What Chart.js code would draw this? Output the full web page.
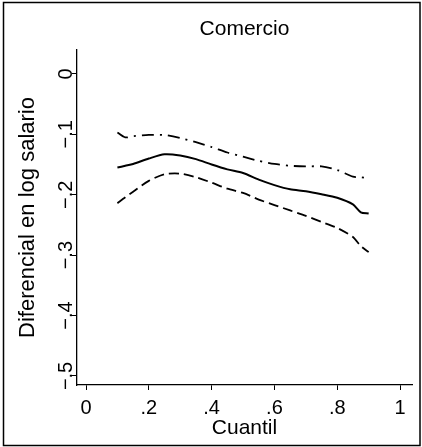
<html>
<head>
    <script src="https://cdn.jsdelivr.net/npm/chart.js@4.4.0/dist/chart.umd.min.js"></script>
    <style>
        body { margin: 0; background: #fff; }
    </style>
</head>
<body>

<canvas id="myChart" width="422" height="447"></canvas>

<script>
    // valores
    const quantiles = [0.10, 0.125, 0.15, 0.20, 0.25, 0.30, 0.35, 0.40, 0.45, 0.50, 0.55, 0.60, 0.65, 0.70, 0.75, 0.80, 0.85, 0.875, 0.90];
    const estimate = [-0.155, -0.152, -0.149, -0.140, -0.133, -0.135, -0.141, -0.150, -0.158, -0.164, -0.175, -0.184, -0.191, -0.194, -0.199, -0.205, -0.216, -0.229, -0.231];
    const lower = [-0.214, -0.204, -0.195, -0.177, -0.166, -0.165, -0.171, -0.180, -0.190, -0.197, -0.208, -0.217, -0.226, -0.235, -0.245, -0.255, -0.270, -0.285, -0.295];
    const upper = [-0.097, -0.105, -0.103, -0.101, -0.101, -0.106, -0.113, -0.121, -0.130, -0.137, -0.144, -0.149, -0.152, -0.153, -0.153, -0.159, -0.170, -0.171, -0.173];

    const xTicks = [0, 0.2, 0.4, 0.6, 0.8, 1];
    const xTickLabels = ['0', '.2', '.4', '.6', '.8', '1'];
    const yTicks = [0, -0.1, -0.2, -0.3, -0.4, -0.5];
    const yTickLabels = ['0', '\u2212.1', '\u2212.2', '\u2212.3', '\u2212.4', '\u2212.5'];

    const FONT = 'Liberation Sans, Arial, Helvetica, sans-serif';

    function pts(ys) {
        return quantiles.map((q, i) => ({ x: q, y: ys[i] }));
    }

    // marco y etiquetas del eje y (giradas)
    const framePlugin = {
        id: 'frame',
        beforeDraw(chart) {
            const c = chart.ctx;
            c.save();
            c.fillStyle = '#fff';
            c.fillRect(0, 0, chart.width, chart.height);
            c.restore();
        },
        afterDraw(chart) {
            const c = chart.ctx;
            c.save();
            c.strokeStyle = '#000';
            c.lineWidth = 1.5;
            c.strokeRect(3.5, 2.5, 416.5, 443);

            const ys = chart.scales.y;
            c.fillStyle = '#000';
            c.font = '20px ' + FONT;
            c.textAlign = 'center';
            c.textBaseline = 'middle';
            yTicks.forEach((v, i) => {
                c.save();
                c.translate(66, ys.getPixelForValue(v));
                c.rotate(-Math.PI / 2);
                c.fillText(yTickLabels[i], 0, 0);
                c.restore();
            });
            c.restore();
        }
    };

    const ctx = document.getElementById('myChart').getContext('2d');
    const myChart = new Chart(ctx, {
        type: 'line',
        data: {
            datasets: [
                {
                    label: 'estimado',
                    data: pts(estimate),
                    borderColor: '#000',
                    borderWidth: 2,
                    pointRadius: 0,
                    tension: 0.25,
                    fill: false
                },
                {
                    label: 'inferior',
                    data: pts(lower),
                    borderColor: '#000',
                    borderWidth: 1.8,
                    borderDash: [10, 5],
                    pointRadius: 0,
                    tension: 0.25,
                    fill: false
                },
                {
                    label: 'superior',
                    data: pts(upper),
                    borderColor: '#000',
                    borderWidth: 1.8,
                    borderDash: [12, 6, 2, 6],
                    pointRadius: 0,
                    tension: 0.25,
                    fill: false
                }
            ]
        },
        options: {
            responsive: false,
            animation: false,
            layout: { padding: { left: 0, right: 10, top: 0, bottom: 0 } },
            plugins: {
                legend: { display: false },
                tooltip: { enabled: false },
                title: {
                    display: true,
                    text: 'Comercio',
                    fullSize: false,
                    color: '#000',
                    font: { family: FONT, size: 21, weight: 'normal' },
                    padding: { top: 16.4, bottom: 8.4 }
                }
            },
            scales: {
                x: {
                    type: 'linear',
                    min: -0.0287,
                    max: 1.038,
                    afterBuildTicks: s => { s.ticks = xTicks.map(v => ({ value: v })); },
                    afterFit: s => { s.height = 62; },
                    grid: { drawOnChartArea: false, drawTicks: true, tickLength: 5, tickColor: '#000', tickWidth: 1 },
                    border: { display: true, color: '#000', width: 1.3 },
                    ticks: {
                        color: '#000',
                        padding: 6,
                        maxRotation: 0,
                        font: { family: FONT, size: 20 },
                        callback: (v) => xTickLabels[xTicks.indexOf(v)]
                    },
                    title: {
                        display: true,
                        text: 'Cuantil',
                        color: '#000',
                        font: { family: FONT, size: 21 },
                        padding: { top: 0, bottom: 6 }
                    }
                },
                y: {
                    type: 'linear',
                    min: -0.515,
                    max: 0.0397,
                    afterBuildTicks: s => { s.ticks = yTicks.map(v => ({ value: v })); },
                    afterFit: s => { s.width = 77; },
                    grid: { drawOnChartArea: false, drawTicks: true, tickLength: 5, tickColor: '#000', tickWidth: 1 },
                    border: { display: true, color: '#000', width: 1.3 },
                    ticks: { display: false },
                    title: {
                        display: true,
                        text: 'Diferencial en log salario',
                        color: '#000',
                        font: { family: FONT, size: 22 },
                        padding: { top: 15, bottom: 0 }
                    }
                }
            }
        },
        plugins: [framePlugin]
    });
</script>
</body>
</html>
